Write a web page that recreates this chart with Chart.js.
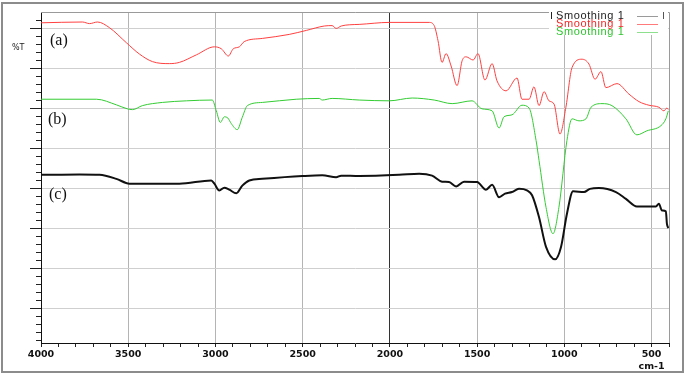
<!DOCTYPE html>
<html lang="en">
<head>
<meta charset="UTF-8">
<title>FTIR spectra</title>
<script src="https://cdn.jsdelivr.net/npm/chart.js"></script>
<style>
    body { margin: 0; background: #fff; }
    #wrap { position: relative; width: 685px; height: 375px; overflow: hidden; }
    #frame { position: absolute; left: 1px; top: 2px; width: 679px; height: 367px; border: 2px solid #8c8c8c; pointer-events: none; }
    .lbl { position: absolute; font-family: "Liberation Serif", serif; font-size: 16px; color: #111; line-height: 16px; }
    #yt { position: absolute; left: 12px; top: 43px; font-family: "DejaVu Sans", sans-serif; font-size: 8px; color: #222; }
    #legend { position: absolute; left: 549px; top: 9px; width: 119px; height: 26px; background: #fff;
              font-family: "Liberation Sans", Arial, sans-serif; font-size: 11px; letter-spacing: 0.6px; }
    .row { position: absolute; left: 7px; height: 9px; line-height: 9px; white-space: nowrap; }
    .smp { position: absolute; left: 81px; width: 21px; height: 0; border-top: 1px solid; }
    #bracket { position: absolute; left: 2px; top: 3px; width: 111px; height: 7px; border-left: 1px solid #222; border-right: 1px solid #555; }
</style>
</head>
<body>
<div id="wrap">
    <canvas id="myChart" width="685" height="375"></canvas>
    <div id="yt">%T</div>
    <div class="lbl" style="left:50px;top:32px">(a)</div>
    <div class="lbl" style="left:48px;top:111px">(b)</div>
    <div class="lbl" style="left:49px;top:186px">(c)</div>
    <div id="legend">
        <div id="bracket"></div>
        <div class="row" style="top:2px;color:#222">Smoothing 1<span class="smp" style="top:5px;border-color:#9a9a9a"></span></div>
        <div class="row" style="top:10px;color:#f02828">Smoothing 1<span class="smp" style="top:5px;border-color:#ff7a7a"></span></div>
        <div class="row" style="top:18px;color:#2fc42f">Smoothing 1<span class="smp" style="top:5px;border-color:#8ee08e"></span></div>
    </div>
    <div id="frame"></div>
</div>
<script>
// wavenumbers (cm-1) and transmittance (arbitrary %T offset units)
const redWn = [4000, 3762, 3722, 3676, 3608, 3510, 3436, 3361, 3264, 3207, 3109, 3006, 2966, 2926, 2898, 2863, 2835, 2731, 2577, 2479, 2376, 2331, 2308, 2279, 2233, 2176, 2004, 1775, 1746, 1724, 1701, 1678, 1649, 1615, 1586, 1563, 1523, 1495, 1455, 1414, 1386, 1334, 1271, 1243, 1202, 1174, 1145, 1116, 1088, 1059, 1025, 991, 956, 899, 859, 824, 790, 762, 698, 630, 572, 515, 458, 429, 412, 404];
const redT  = [71.3, 71.5, 71.1, 71.5, 70.1, 66.3, 63.5, 61.6, 61.1, 61.4, 63.3, 65.3, 64.8, 63.0, 64.8, 65.3, 66.6, 67.4, 68.4, 69.4, 70.5, 70.6, 69.9, 70.5, 70.8, 70.9, 71.4, 71.4, 70.6, 66.8, 61.4, 63.6, 60.5, 55.6, 61.8, 62.8, 62.0, 63.6, 57.0, 61.1, 56.8, 54.3, 57.5, 52.2, 52.2, 55.3, 50.6, 54.1, 51.8, 51.0, 43.5, 50.2, 60.1, 62.2, 61.0, 57.2, 59.1, 55.1, 56.1, 53.5, 51.6, 50.7, 50.2, 49.3, 50.0, 49.6];

const greenWn = [4000, 3682, 3568, 3505, 3476, 3419, 3304, 3167, 3018, 2995, 2972, 2949, 2929, 2909, 2875, 2846, 2817, 2731, 2537, 2405, 2388, 2331, 2176, 2004, 1872, 1746, 1643, 1529, 1472, 1414, 1374, 1346, 1300, 1243, 1202, 1162, 1145, 1105, 1065, 1031, 985, 956, 916, 876, 847, 784, 727, 647, 584, 527, 446, 418, 404];
const greenT  = [52.2, 52.2, 50.8, 49.8, 49.6, 50.6, 51.4, 51.8, 52.0, 49.3, 46.4, 47.8, 47.5, 46.1, 44.6, 47.7, 50.6, 51.4, 52.2, 52.4, 52.0, 52.4, 52.0, 51.8, 52.5, 52.0, 51.1, 51.8, 49.8, 49.3, 45.0, 47.8, 48.3, 50.7, 50.0, 41.9, 36.9, 25.2, 18.6, 25.2, 41.9, 47.3, 46.8, 47.3, 50.2, 51.1, 50.6, 47.3, 43.3, 44.3, 45.6, 47.3, 49.3];

const blackWn = [4000, 3780, 3665, 3568, 3493, 3207, 3024, 3006, 2978, 2949, 2921, 2880, 2846, 2806, 2731, 2502, 2388, 2308, 2279, 2176, 1947, 1832, 1758, 1701, 1661, 1620, 1575, 1500, 1449, 1414, 1374, 1340, 1300, 1260, 1214, 1185, 1145, 1105, 1053, 1019, 985, 950, 887, 853, 802, 704, 647, 584, 475, 458, 441, 418, 412, 404];
const blackT  = [33.3, 33.4, 33.3, 32.3, 31.1, 31.1, 31.9, 31.1, 29.4, 30.1, 29.6, 28.7, 30.6, 31.9, 32.3, 33.0, 33.2, 32.7, 33.1, 33.0, 33.3, 33.6, 33.1, 31.6, 31.5, 30.4, 31.6, 31.5, 29.6, 30.8, 27.7, 28.6, 29.0, 29.8, 29.4, 28.2, 22.7, 15.3, 12.2, 15.3, 23.6, 29.2, 29.0, 29.8, 30.0, 29.0, 27.3, 25.4, 25.4, 26.1, 24.4, 24.2, 21.1, 20.0];

const xMajor = [4000, 3500, 3000, 2500, 2000, 1500, 1000, 500];

function toPoints(wn, t) {
    return wn.map((w, i) => ({ x: w, y: t[i] }));
}

// frame around plot area (top/right in grey) and the y axis tick marks
const plotDecor = {
    id: 'plotDecor',
    beforeDatasetsDraw(chart) {
        const a = chart.chartArea, c = chart.ctx;
        c.save();
        c.strokeStyle = '#9a9a9a';
        c.lineWidth = 1;
        c.beginPath();
        c.moveTo(a.left, a.top + 0.5); c.lineTo(a.right + 0.5, a.top + 0.5); c.lineTo(a.right + 0.5, a.bottom);
        c.stroke();
        c.restore();
    },
    afterDraw(chart) {
        const y = chart.scales.y, c = chart.ctx, x0 = chart.chartArea.left;
        c.save();
        c.strokeStyle = '#222';
        c.lineWidth = 1;
        y.ticks.forEach(t => {
            const p = Math.round(y.getPixelForValue(t.value)) + 0.5;
            const len = t.value % 10 === 0 ? 11 : 5;
            c.beginPath(); c.moveTo(x0 - len, p); c.lineTo(x0, p); c.stroke();
        });
        c.restore();
    }
};

const ctx = document.getElementById('myChart').getContext('2d');
new Chart(ctx, {
    type: 'line',
    data: {
        datasets: [
            { label: 'Smoothing 1', data: toPoints(redWn, redT), borderColor: '#ff4040', borderWidth: 1 },
            { label: 'Smoothing 1', data: toPoints(greenWn, greenT), borderColor: '#33cc33', borderWidth: 1 },
            { label: 'Smoothing 1', data: toPoints(blackWn, blackT), borderColor: '#111', borderWidth: 2 }
        ]
    },
    options: {
        responsive: false,
        animation: false,
        devicePixelRatio: 1,
        layout: { padding: { top: 12, right: 16, left: 0, bottom: 0 } },
        elements: {
            point: { radius: 0 },
            line: { cubicInterpolationMode: 'monotone', fill: false }
        },
        plugins: { legend: { display: false }, tooltip: { enabled: false } },
        scales: {
            x: {
                type: 'linear',
                reverse: true,
                min: 400,
                max: 4000,
                afterBuildTicks: s => {
                    const t = [];
                    for (let v = 4000; v >= 400; v -= 100) t.push({ value: v });
                    s.ticks = t;
                },
                afterFit: s => { s.height = 32; },
                grid: {
                    color: c => {
                        const v = c.tick ? c.tick.value : 0;
                        if (!xMajor.includes(v)) return 'rgba(0,0,0,0)';
                        return v === 2000 ? '#333' : '#b4b4b4';
                    },
                    tickColor: '#222',
                    tickLength: 4
                },
                border: { color: '#111', width: 1 },
                ticks: {
                    autoSkip: false,
                    maxRotation: 0,
                    padding: 2,
                    color: '#111',
                    font: { family: 'DejaVu Sans', size: 9.5, weight: 'bold', lineHeight: 1.2 },
                    callback: v => {
                        if (v === 500) return ['500', 'cm-1'];
                        return xMajor.includes(v) ? String(v) : '';
                    }
                }
            },
            y: {
                min: -8.72,
                max: 74,
                afterBuildTicks: s => {
                    const t = [];
                    for (let v = -8; v <= 72; v += 2) t.push({ value: v });
                    s.ticks = t;
                },
                afterFit: s => { s.width = 41; },
                grid: {
                    color: c => (c.tick && c.tick.value % 10 === 0) ? '#cfcfcf' : 'rgba(0,0,0,0)',
                    drawTicks: false
                },
                border: { color: '#111', width: 1 },
                ticks: { display: false }
            }
        }
    },
    plugins: [plotDecor]
});
</script>
</body>
</html>
